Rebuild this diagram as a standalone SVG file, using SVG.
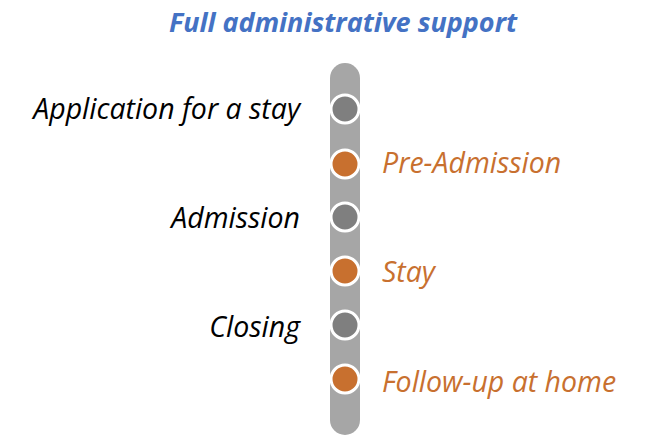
<svg xmlns="http://www.w3.org/2000/svg" width="656" height="448" viewBox="0 0 656 448">
<style>
.t{font-family:"Open Sans","Liberation Sans",sans-serif;font-style:italic;font-size:28.5px}
.l{fill:#000;text-anchor:end}
.r{fill:#C8702F}
.g{fill:#7F7F7F;stroke:#fff;stroke-width:3}
.o{fill:#C8702F;stroke:#fff;stroke-width:3}
</style>
<rect fill="#fff" width="656" height="448"/>
<text x="343" y="32" text-anchor="middle" class="t" style="font-weight:bold;font-size:27px;fill:#4472C4">Full administrative support</text>
<g id="connectors"><rect x="330" y="63" width="30" height="372" rx="15" fill="#A6A6A6"/></g>
<g id="n1"><circle class="g" cx="345" cy="109" r="14"/><text class="t l" x="300" y="119">Application for a stay</text></g>
<g id="n2"><circle class="o" cx="345" cy="164" r="14"/><text class="t r" x="382" y="173">Pre-Admission</text></g>
<g id="n3"><circle class="g" cx="345" cy="217" r="14"/><text class="t l" x="300" y="228">Admission</text></g>
<g id="n4"><circle class="o" cx="345" cy="271" r="14"/><text class="t r" x="382" y="282">Stay</text></g>
<g id="n5"><circle class="g" cx="345" cy="325" r="14"/><text class="t l" x="300" y="337">Closing</text></g>
<g id="n6"><circle class="o" cx="345" cy="379" r="14"/><text class="t r" x="382" y="392">Follow-up at home</text></g>
</svg>
